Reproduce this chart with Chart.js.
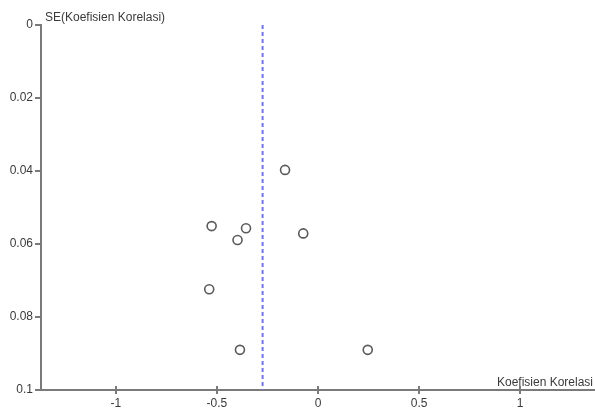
<!DOCTYPE html>
<html>
<head>
<meta charset="utf-8">
<script src="https://cdn.jsdelivr.net/npm/chart.js@4.4.1/dist/chart.umd.min.js"></script>
<style>
  html, body { margin: 0; padding: 0; background: #fff; }
  #wrap { width: 595px; height: 412px; }
</style>
</head>
<body>
<div id="wrap"><canvas id="funnel"></canvas></div>
<script>
// koefisien korelasi per studi dan standar error-nya
const koefisien = [-0.163, -0.526, -0.356, -0.398, -0.073, -0.538, -0.386, 0.246];
const standarError = [0.0397, 0.0551, 0.0557, 0.0589, 0.0571, 0.0724, 0.089, 0.089];
const rataRata = -0.274;
const xTicks = [-1, -0.5, 0, 0.5, 1];
const yTicks = [0, 0.02, 0.04, 0.06, 0.08, 0.1];

const titikData = koefisien.map((k, i) => ({ x: k, y: standarError[i] }));

const axisColor = "#7a7a7a";
const textColor = "#3a3a3a";
const fontFamily = "'Liberation Sans', Arial, sans-serif";

// tulisan judul sumbu + ujung tick x yang menembus garis sumbu
const labelPlugin = {
  id: "labelPlugin",
  afterDraw(chart) {
    const c = chart.ctx;
    const area = chart.chartArea;
    const xs = chart.scales.x;
    c.save();
    c.strokeStyle = axisColor;
    c.lineWidth = 2;
    xTicks.forEach((v) => {
      const px = Math.round(xs.getPixelForValue(v));
      c.beginPath();
      c.moveTo(px, area.bottom - 4);
      c.lineTo(px, area.bottom);
      c.stroke();
    });
    c.fillStyle = textColor;
    c.font = "12px " + fontFamily;
    c.textBaseline = "alphabetic";
    c.textAlign = "left";
    c.fillText("SE(Koefisien Korelasi)", area.left + 4, 21);
    c.textAlign = "right";
    c.fillText("Koefisien Korelasi", area.right - 2, area.bottom - 4);
    c.restore();
  },
};

const ctx = document.getElementById("funnel").getContext("2d");

new Chart(ctx, {
  type: "scatter",
  data: {
    datasets: [
      {
        label: "rata-rata",
        type: "line",
        data: [
          { x: rataRata, y: 0 },
          { x: rataRata, y: 0.1 },
        ],
        borderColor: "#7474ea",
        borderWidth: 2,
        borderDash: [4, 3],
        pointRadius: 0,
        fill: false,
      },
      {
        label: "studi",
        data: titikData,
        pointRadius: 4.5,
        pointHoverRadius: 4.5,
        pointBorderWidth: 1.6,
        pointBackgroundColor: "#ffffff",
        pointBorderColor: "#5a5a5a",
      },
    ],
  },
  options: {
    responsive: true,
    maintainAspectRatio: false,
    animation: false,
    layout: { autoPadding: false, padding: { top: 25, right: 0, left: 0, bottom: 0 } },
    plugins: {
      legend: { display: false },
      tooltip: { enabled: false },
    },
    scales: {
      x: {
        type: "linear",
        min: -1.37,
        max: 1.37,
        afterBuildTicks: (scale) => {
          scale.ticks = xTicks.map((v) => ({ value: v }));
        },
        afterFit: (scale) => {
          scale.height = 22;
        },
        grid: {
          drawOnChartArea: false,
          drawTicks: true,
          tickLength: 4,
          color: axisColor,
          lineWidth: 2,
        },
        border: { color: axisColor, width: 2 },
        ticks: {
          color: textColor,
          font: { family: fontFamily, size: 12 },
          padding: 2,
          maxRotation: 0,
          callback: (v) => String(v),
        },
      },
      y: {
        type: "linear",
        reverse: true,
        min: 0,
        max: 0.1,
        afterBuildTicks: (scale) => {
          scale.ticks = yTicks.map((v) => ({ value: v }));
        },
        afterFit: (scale) => {
          scale.width = 41;
        },
        grid: {
          drawOnChartArea: false,
          drawTicks: true,
          tickLength: 6,
          color: axisColor,
          lineWidth: 2,
        },
        border: { color: axisColor, width: 2 },
        ticks: {
          color: textColor,
          font: { family: fontFamily, size: 12 },
          padding: 2,
          callback: (v) => String(v),
        },
      },
    },
  },
  plugins: [labelPlugin],
});
</script>
</body>
</html>
